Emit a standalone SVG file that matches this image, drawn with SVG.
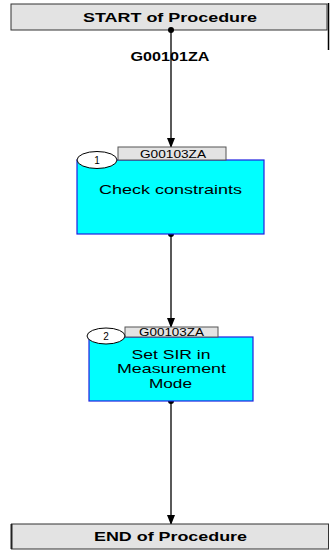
<svg xmlns="http://www.w3.org/2000/svg" width="330" height="550" viewBox="0 0 330 550">
<style>
.term{fill:#e3e3e3;stroke:#333;stroke-width:1}
.termtxt{font-family:"Liberation Sans",Arial,sans-serif;font-weight:bold;font-size:13px;fill:#000;text-anchor:middle}
.proc{fill:#00ffff;stroke:#2020e0;stroke-width:1.2}
.tab{fill:#e3e3e3;stroke:#555;stroke-width:1}
.tabtxt{font-family:"Liberation Sans",Arial,sans-serif;font-size:10px;fill:#000;text-anchor:middle}
.oval{fill:#fff;stroke:#000;stroke-width:1}
.num{font-family:"Liberation Sans",Arial,sans-serif;font-size:10px;fill:#000;text-anchor:middle}
.ptxt{font-family:"Liberation Sans",Arial,sans-serif;font-size:13px;fill:#000;text-anchor:middle}
.conn{stroke:#000;stroke-width:1.3;fill:none}
</style>
<defs>
<marker id="arr" markerWidth="10" markerHeight="8" refX="9" refY="4" orient="auto" markerUnits="userSpaceOnUse">
<path d="M0,0 L10,4 L0,8 Z" fill="#000"/>
</marker>
</defs>
<rect x="0" y="0" width="330" height="550" fill="#fff"/>
<g id="start">
<rect class="term" x="11" y="4" width="316" height="26"/>
<line x1="328.5" y1="3" x2="328.5" y2="50" stroke="#000" stroke-width="1.5"/>
<text class="termtxt" x="170" y="22" textLength="174" lengthAdjust="spacingAndGlyphs">START of Procedure</text>
</g>
<g id="connectors">
<line class="conn" x1="171" y1="30" x2="171" y2="147" marker-end="url(#arr)"/>
<circle cx="171" cy="30" r="3" fill="#000"/>
<line class="conn" x1="171" y1="234" x2="171" y2="327" marker-end="url(#arr)"/>
<circle cx="171" cy="234" r="3" fill="#000"/>
<line class="conn" x1="171" y1="401" x2="171" y2="524" marker-end="url(#arr)"/>
<circle cx="171" cy="401" r="3" fill="#000"/>
<text class="termtxt" x="170" y="61" textLength="79" lengthAdjust="spacingAndGlyphs">G00101ZA</text>
</g>
<g id="step1">
<rect class="proc" x="77" y="160" width="187" height="74"/>
<rect class="tab" x="118" y="147" width="108" height="13"/>
<text class="tabtxt" x="173" y="157.5" textLength="66" lengthAdjust="spacingAndGlyphs">G00103ZA</text>
<ellipse class="oval" cx="97" cy="160" rx="20" ry="8.5"/>
<text class="num" x="97" y="164">1</text>
<text class="ptxt" x="170.5" y="194" textLength="143" lengthAdjust="spacingAndGlyphs">Check constraints</text>
</g>
<g id="step2">
<rect class="proc" x="89" y="337" width="164" height="64"/>
<rect class="tab" x="125" y="327" width="93" height="10"/>
<text class="tabtxt" x="171.5" y="336" textLength="65" lengthAdjust="spacingAndGlyphs">G00103ZA</text>
<ellipse class="oval" cx="106" cy="336" rx="19" ry="8"/>
<text class="num" x="106" y="340">2</text>
<text class="ptxt" x="171" y="358.5" font-size="12.5" textLength="79" lengthAdjust="spacingAndGlyphs">Set SIR in</text>
<text class="ptxt" x="171.5" y="373" font-size="12.5" textLength="109" lengthAdjust="spacingAndGlyphs">Measurement</text>
<text class="ptxt" x="170.5" y="387.5" font-size="12.5" textLength="43" lengthAdjust="spacingAndGlyphs">Mode</text>
</g>
<g id="end">
<rect class="term" x="11.5" y="524" width="317" height="25"/>
<line x1="11.5" y1="524" x2="11.5" y2="549" stroke="#222" stroke-width="2"/>
<text class="termtxt" x="170.5" y="541" textLength="153" lengthAdjust="spacingAndGlyphs">END of Procedure</text>
</g>
</svg>
